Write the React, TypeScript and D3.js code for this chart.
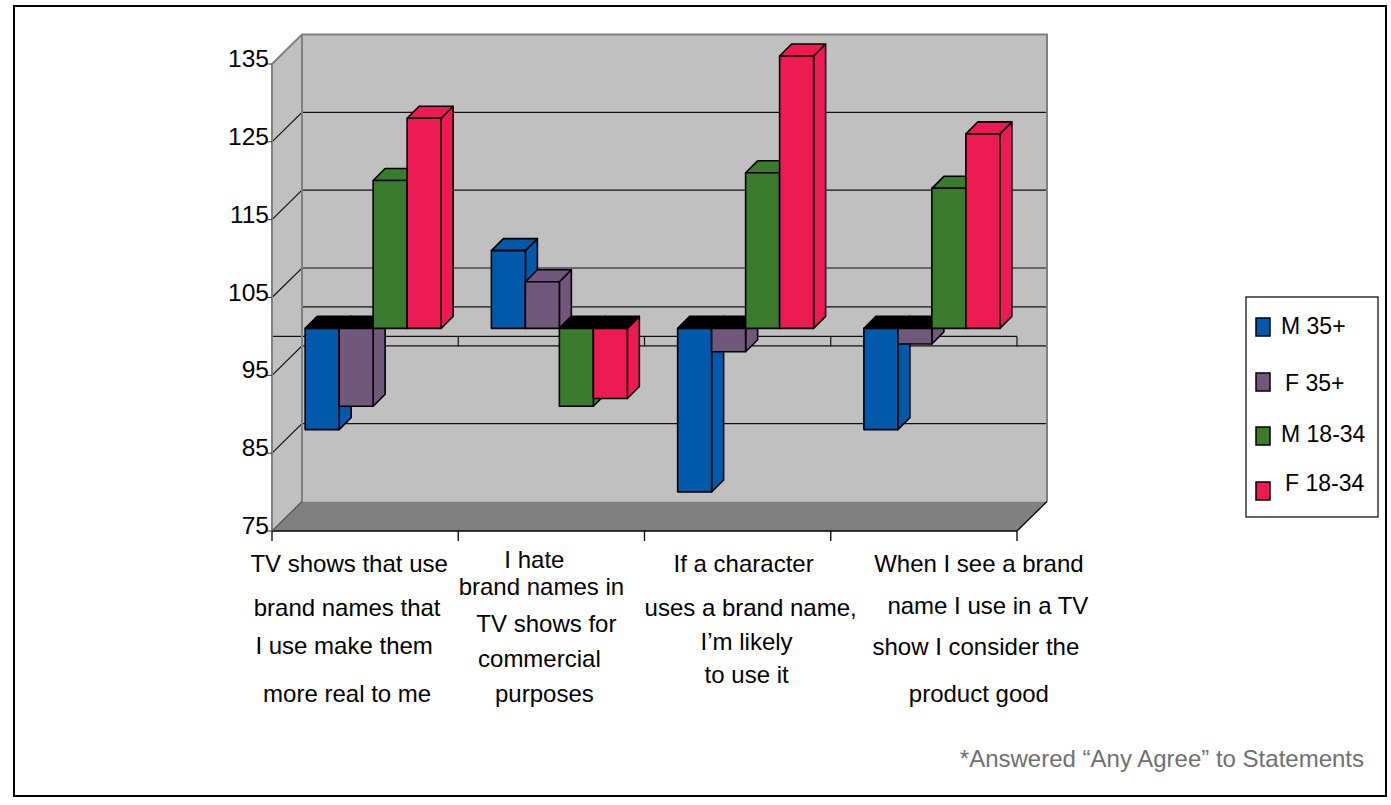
import React from "react";
import * as d3 from "d3";

// Statements on the category axis, one entry per wrapped line
const categoryLines: string[][] = [
  ["TV shows that use", "brand names that", "I use make them", "more real to me"],
  ["I hate", "brand names in", "TV shows for", "commercial", "purposes"],
  ["If a character", "uses a brand name,", "I\u2019m likely", "to use it"],
  ["When I see a brand", "name I use in a TV", "show I consider the", "product good"],
];
const categories = categoryLines.map((l) => l.join(" "));

const series = ["M 35+", "F 35+", "M 18-34", "F 18-34"];
const m35 = [87, 110, 79, 87];
const f35 = [90, 106, 97, 98];
const m1834 = [119, 90, 120, 118];
const f1834 = [127, 91, 135, 125];
const seriesValues = [m35, f35, m1834, f1834];

const yTicks = [75, 85, 95, 105, 115, 125, 135];
const baseValue = 100;
const footnote = "*Answered \u201cAny Agree\u201d to Statements";

// Layout and style
const W = 1391;
const H = 805;
const colors = ["#0059AA", "#71587B", "#3A7B2E", "#EE1B52"];
const FONT = "'Liberation Sans', Arial, Helvetica, sans-serif";
const plot = { left: 272, right: 1017, top: 64, bottom: 531 };
const wall = { dx: 30, dy: -29.5 }; // depth of the back wall
const barShift = 8; // bars sit this far behind the front plane
const barDepth = 12; // visible depth of each bar

// hand-placed label lines: category centre offset and per-line baselines
const labelLayout = [
  { dx: -18, lines: [572, 616, 654, 702], ldx: [2, 0, -3, 0] },
  { dx: -10, lines: [568, 595, 632, 667, 702], ldx: [-7, 0, 5, -2, 3] },
  { dx: 9, lines: [572, 616, 650, 683], ldx: [-3, 4, 0, 0] },
  { dx: 55, lines: [572, 614, 655, 702], ldx: [0, 9, -3, 0] },
];

const legendRows = [
  { y: 318, tx: 1281, base: 334 },
  { y: 373, tx: 1285, base: 391 },
  { y: 427, tx: 1281, base: 442 },
  { y: 482, tx: 1285, base: 491 },
];

const pts = (p: [number, number][]) => p.map((d) => d.join(",")).join(" ");

export default function App() {
  const y = d3.scaleLinear().domain([75, 135]).range([plot.bottom, plot.top]);
  const x = d3.scaleBand<string>().domain(categories).range([plot.left, plot.right]);
  const bw = x.bandwidth();
  const clusterW = bw * 0.73;
  const sx = d3
    .scaleBand<string>()
    .domain(series)
    .range([(bw - clusterW) / 2, (bw + clusterW) / 2]);
  const barW = sx.bandwidth();

  const back = (px: number, py: number): [number, number] => [px + wall.dx, py + wall.dy];

  const floorFront = y(75);
  const floorBack = floorFront + wall.dy;
  const top = y(135);
  const topBack = top + wall.dy;

  const gridVals = yTicks.filter((v) => v > 75 && v < 135);

  // Bars: side face, top face and front face
  const bars: React.ReactNode[] = [];
  categories.forEach((cat, i) => {
    series.forEach((s, j) => {
      const v = seriesValues[j][i];
      const x0 = (x(cat) as number) + (sx(s) as number) + barShift;
      const x1 = x0 + barW;
      const yv = y(v) - barShift;
      const yb = y(baseValue) - barShift;
      const hi = Math.min(yv, yb);
      const lo = Math.max(yv, yb);
      const d = barDepth;
      const neg = v < baseValue;
      bars.push(
        <g key={`${i}-${j}`} stroke="#000" strokeWidth={1.6} strokeLinejoin="round">
          <polygon
            points={pts([[x1, hi], [x1 + d, hi - d], [x1 + d, lo - d], [x1, lo]])}
            fill={colors[j]}
          />
          <polygon
            points={pts([[x0, hi], [x0 + d, hi - d], [x1 + d, hi - d], [x1, hi]])}
            fill={neg ? "#000" : colors[j]}
          />
          <rect x={x0} y={hi} width={barW} height={lo - hi} fill={colors[j]} />
        </g>
      );
    });
  });

  const boundaries = [...categories.map((c) => x(c) as number), plot.right];

  return (
    <svg
      width={W}
      height={H}
      viewBox={`0 0 ${W} ${H}`}
      style={{ position: "absolute", left: 0, top: 0, background: "#fff" }}
      fontFamily={FONT}
    >
      <rect x={14} y={6} width={1372} height={790} fill="#fff" stroke="#000" strokeWidth={2} />

      {/* left side wall */}
      <polygon
        points={pts([[plot.left, top], back(plot.left, top), back(plot.left, floorFront), [plot.left, floorFront]])}
        fill="#C0C0C0"
      />
      {/* back wall */}
      <rect
        x={plot.left + wall.dx}
        y={topBack}
        width={plot.right - plot.left}
        height={floorBack - topBack}
        fill="#C0C0C0"
      />
      {/* floor */}
      <polygon
        points={pts([[plot.left, floorFront], back(plot.left, floorFront), back(plot.right, floorFront), [plot.right, floorFront]])}
        fill="#808080"
      />

      {/* gridlines on the back wall and side wall */}
      <g stroke="#111" strokeWidth={1.2} fill="none">
        {gridVals.map((v) => (
          <polyline
            key={v}
            points={pts([[plot.left, y(v)], back(plot.left, y(v)), back(plot.right, y(v))])}
          />
        ))}
        {/* value-100 crossing plane */}
        <line x1={plot.left + wall.dx} x2={plot.right + wall.dx} y1={y(baseValue) + wall.dy} y2={y(baseValue) + wall.dy} />
        <line x1={plot.left} x2={plot.right} y1={y(baseValue)} y2={y(baseValue)} />
        {boundaries.map((bx, k) => (
          <line key={k} x1={bx} x2={bx} y1={y(baseValue)} y2={y(baseValue) + 10} />
        ))}
      </g>

      {/* wall edges */}
      <g stroke="#808080" strokeWidth={2} fill="none">
        <polyline points={pts([[plot.left, top], back(plot.left, top), back(plot.right, top), back(plot.right, floorFront)])} />
        <line x1={plot.left + wall.dx} x2={plot.left + wall.dx} y1={topBack} y2={floorBack} />
        <line x1={plot.left} x2={plot.left} y1={top} y2={floorFront} />
      </g>

      {/* floor edges and category ticks */}
      <g stroke="#000" strokeWidth={1.3}>
        <line x1={plot.left} x2={plot.right} y1={floorFront} y2={floorFront} />
        <line x1={plot.right} y1={floorFront} x2={plot.right + wall.dx} y2={floorBack} />
        <line x1={plot.left} y1={floorFront} x2={plot.left + wall.dx} y2={floorBack} stroke="#555" />
        {boundaries.map((bx, k) => (
          <line key={k} x1={bx} x2={bx} y1={floorFront} y2={floorFront + 10} />
        ))}
      </g>

      {/* value axis ticks and labels */}
      <g>
        {yTicks.map((v) => (
          <g key={v}>
            <line x1={plot.left - 6} x2={plot.left} y1={y(v)} y2={y(v)} stroke="#333" strokeWidth={1} />
            <text x={269} y={y(v) + 3} textAnchor="end" fontSize={24.5} fill="#000">
              {v}
            </text>
          </g>
        ))}
      </g>

      {bars}

      {/* category labels */}
      <g fontSize={24} fill="#000" textAnchor="middle">
        {categoryLines.map((lines, i) => {
          const cx = (x(categories[i]) as number) + bw / 2 + labelLayout[i].dx;
          return lines.map((t, k) => (
            <text key={`${i}-${k}`} x={cx + labelLayout[i].ldx[k]} y={labelLayout[i].lines[k]}>
              {t}
            </text>
          ));
        })}
      </g>

      {/* legend */}
      <g>
        <rect x={1246} y={297} width={132} height={220} fill="#fff" stroke="#000" strokeWidth={1.2} />
        {series.map((s, j) => (
          <g key={s}>
            <rect
              x={1256}
              y={legendRows[j].y}
              width={14}
              height={18}
              fill={colors[j]}
              stroke="#000"
              strokeWidth={1.5}
            />
            <text x={legendRows[j].tx} y={legendRows[j].base} fontSize={23} fill="#000">
              {s}
            </text>
          </g>
        ))}
      </g>

      <text x={1364} y={767} textAnchor="end" fontSize={24} fill="#707070">
        {footnote}
      </text>
    </svg>
  );
}
